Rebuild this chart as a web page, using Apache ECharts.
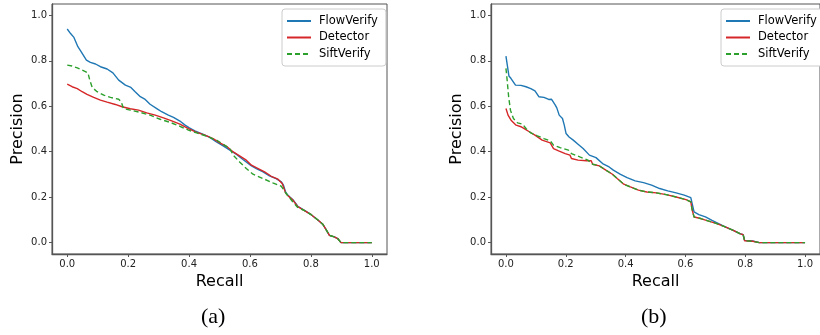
<!DOCTYPE html>
<html><head><meta charset="utf-8">
<script src="https://cdn.jsdelivr.net/npm/echarts@6/dist/echarts.min.js"></script>
<style>html,body{margin:0;padding:0;background:#fff;}#c{width:820px;height:335px;}</style>
</head><body><div id="c"></div>
<script>
const seriesNames = ['FlowVerify', 'Detector', 'SiftVerify'];
const panelLabels = ['(a)', '(b)'];
const tickValues = [0, 0.2, 0.4, 0.6, 0.8, 1.0];

// Panel (a)
const aFlowR = [0,0.011,0.022,0.035,0.044,0.063,0.076,0.093,0.109,0.131,0.150,0.169,0.191,0.209,0.223,0.240,0.256,0.272,0.294,0.310,0.332,0.349,0.370,0.387,0.401,0.419,0.447,0.468,0.490,0.512,0.534,0.556,0.577,0.605,0.621,0.643,0.664,0.686,0.703,0.710,0.717,0.724,0.741,0.757,0.779,0.801,0.822,0.839,0.850,0.861,0.877,0.888,0.899,1.0];
const aFlowP = [0.94,0.92,0.903,0.862,0.844,0.803,0.793,0.786,0.774,0.764,0.747,0.715,0.693,0.683,0.664,0.642,0.630,0.609,0.590,0.576,0.561,0.551,0.535,0.517,0.505,0.492,0.476,0.463,0.443,0.426,0.407,0.388,0.366,0.338,0.326,0.311,0.294,0.282,0.267,0.253,0.223,0.209,0.189,0.160,0.142,0.123,0.101,0.081,0.057,0.032,0.025,0.018,0.0,0.0];
const aDetR = [0,0.016,0.033,0.049,0.065,0.087,0.109,0.131,0.158,0.180,0.207,0.234,0.261,0.289,0.316,0.343,0.370,0.398,0.425,0.452,0.479,0.501,0.523,0.545,0.566,0.588,0.605,0.627,0.648,0.670,0.692,0.706,0.717,0.724,0.741,0.757,0.779,0.801,0.822,0.839,0.850,0.861,0.877,0.888,0.899,1.0];
const aDetP = [0.697,0.686,0.678,0.664,0.652,0.639,0.627,0.618,0.608,0.598,0.589,0.583,0.571,0.561,0.549,0.536,0.521,0.502,0.485,0.473,0.458,0.439,0.424,0.399,0.382,0.363,0.341,0.326,0.311,0.292,0.279,0.260,0.219,0.207,0.187,0.158,0.141,0.123,0.101,0.081,0.057,0.032,0.025,0.018,0.0,0.0];
const aSiftR = [0,0.016,0.033,0.049,0.068,0.074,0.082,0.098,0.120,0.142,0.169,0.177,0.185,0.207,0.240,0.272,0.305,0.338,0.370,0.398,0.425,0.458,0.490,0.512,0.534,0.545,0.566,0.588,0.610,0.643,0.675,0.703,0.719,0.741,0.757,0.779,0.801,0.822,0.839,0.850,0.861,0.877,0.888,0.899,1.0];
const aSiftP = [0.781,0.777,0.769,0.759,0.747,0.715,0.683,0.664,0.649,0.639,0.631,0.620,0.590,0.583,0.573,0.561,0.543,0.529,0.512,0.495,0.483,0.468,0.451,0.433,0.414,0.385,0.355,0.326,0.301,0.282,0.263,0.248,0.216,0.179,0.155,0.141,0.123,0.101,0.081,0.057,0.032,0.025,0.018,0.0,0.0];

// Panel (b)
const bFlowR = [0,0.010,0.017,0.032,0.050,0.067,0.083,0.097,0.110,0.127,0.143,0.152,0.165,0.170,0.178,0.189,0.195,0.201,0.211,0.225,0.241,0.258,0.279,0.301,0.323,0.345,0.359,0.383,0.405,0.432,0.460,0.487,0.514,0.541,0.569,0.596,0.618,0.623,0.629,0.645,0.667,0.689,0.711,0.733,0.760,0.782,0.793,0.798,0.825,0.847,1.0];
const bFlowP = [0.821,0.733,0.722,0.693,0.692,0.686,0.678,0.668,0.642,0.639,0.630,0.631,0.605,0.593,0.561,0.546,0.517,0.480,0.465,0.451,0.433,0.414,0.385,0.374,0.348,0.333,0.319,0.300,0.286,0.272,0.264,0.253,0.238,0.228,0.219,0.209,0.198,0.169,0.135,0.123,0.113,0.098,0.084,0.069,0.054,0.040,0.035,0.010,0.007,0.0,0.0];
const bDetR = [0,0.007,0.017,0.034,0.050,0.061,0.078,0.097,0.121,0.148,0.159,0.176,0.198,0.214,0.219,0.241,0.269,0.285,0.290,0.312,0.334,0.356,0.372,0.394,0.416,0.443,0.471,0.503,0.536,0.569,0.602,0.618,0.623,0.629,0.651,0.678,0.705,0.733,0.760,0.782,0.793,0.798,0.825,0.847,1.0];
const bDetP = [0.590,0.561,0.539,0.517,0.510,0.502,0.488,0.473,0.451,0.439,0.414,0.404,0.392,0.385,0.370,0.363,0.360,0.360,0.345,0.338,0.319,0.301,0.282,0.257,0.245,0.231,0.223,0.219,0.211,0.201,0.189,0.179,0.142,0.113,0.106,0.095,0.084,0.069,0.054,0.040,0.035,0.008,0.006,0.0,0.0];
const bSiftR = [0,0.004,0.009,0.015,0.025,0.039,0.056,0.067,0.083,0.105,0.127,0.148,0.159,0.181,0.209,0.219,0.247,0.274,0.290,0.312,0.334,0.356,0.372,0.394,0.416,0.443,0.471,0.503,0.536,0.569,0.602,0.618,0.623,0.629,0.651,0.678,0.705,0.733,0.760,0.782,0.793,0.798,0.825,0.847,1.0];
const bSiftP = [0.767,0.715,0.642,0.583,0.546,0.527,0.521,0.502,0.483,0.470,0.458,0.448,0.429,0.418,0.407,0.392,0.377,0.363,0.345,0.338,0.319,0.301,0.282,0.257,0.245,0.231,0.223,0.219,0.211,0.201,0.189,0.179,0.142,0.113,0.106,0.095,0.084,0.069,0.054,0.040,0.035,0.008,0.006,0.0,0.0];

const colors = ['#1f77b4', '#d62728', '#2ca02c'];
const zip = (r, p) => r.map((x, i) => [x, p[i]]);
const panels = [
  [zip(aFlowR, aFlowP), zip(aDetR, aDetP), zip(aSiftR, aSiftP)],
  [zip(bFlowR, bFlowP), zip(bDetR, bDetP), zip(bSiftR, bSiftP)]
];

const gridLefts = [52, 491];
const axisColor = '#555';
const grids = gridLefts.map(l => ({ left: l, top: 4, width: 335, height: 250, show: true, borderColor: axisColor, borderWidth: 1, containLabel: false }));
const xAxes = [0, 1].map(i => ({
  type: 'value', gridIndex: i, min: -0.05, max: 1.05,
  name: 'Recall', nameLocation: 'middle', nameGap: 20,
  nameTextStyle: { fontFamily: 'DejaVu Sans', fontSize: 16, color: '#000' },
  axisLine: { show: true, onZero: false, lineStyle: { color: axisColor, width: 1.3 } },
  axisTick: { show: true, length: 3, customValues: tickValues, lineStyle: { color: axisColor } },
  axisLabel: { customValues: tickValues, formatter: v => v.toFixed(1), fontFamily: 'DejaVu Sans', fontSize: 10, color: '#222', margin: 5 },
  splitLine: { show: false }
}));
const yAxes = [0, 1].map(i => ({
  type: 'value', gridIndex: i, min: -0.05, max: 1.05,
  name: 'Precision', nameLocation: 'middle', nameGap: 26, nameRotate: 90,
  nameTextStyle: { fontFamily: 'DejaVu Sans', fontSize: 16, color: '#000' },
  axisLine: { show: true, onZero: false, lineStyle: { color: axisColor, width: 1.3 } },
  axisTick: { show: true, length: 3, customValues: tickValues, lineStyle: { color: axisColor } },
  axisLabel: { customValues: tickValues, formatter: v => v.toFixed(1), fontFamily: 'DejaVu Sans', fontSize: 10, color: '#222', margin: 5 },
  splitLine: { show: false }
}));

const series = [];
panels.forEach((sets, gi) => {
  sets.forEach((d, si) => {
    series.push({
      name: seriesNames[si], type: 'line', xAxisIndex: gi, yAxisIndex: gi,
      data: d, symbol: 'none', silent: true, animation: false,
      lineStyle: { color: colors[si], width: 1.4, type: si === 2 ? [5, 3] : 'solid' },
      itemStyle: { color: colors[si] }
    });
  });
});

const legends = [282, 721].map(l => ({
  orient: 'vertical', left: l, top: 9, data: seriesNames,
  itemWidth: 24, itemHeight: 12, itemGap: 4.5,
  itemStyle: { opacity: 0 },
  backgroundColor: '#fff', borderColor: '#ccc', borderWidth: 1, borderRadius: 3,
  padding: [6, 8, 6, 4],
  textStyle: { fontFamily: 'DejaVu Sans', fontSize: 11.5, color: '#000', padding: [0, 0, 0, 3] },
  selectedMode: false
}));

const chart = echarts.init(document.getElementById('c'), null, { renderer: 'canvas' });
chart.setOption({
  animation: false,
  grid: grids, xAxis: xAxes, yAxis: yAxes, series: series, legend: legends,
  graphic: panelLabels.map((t, i) => ({
    type: 'text', left: [201, 641][i], top: 306,
    style: { text: t, font: '22px "Liberation Serif"', fill: '#000' }
  }))
});
</script></body></html>
